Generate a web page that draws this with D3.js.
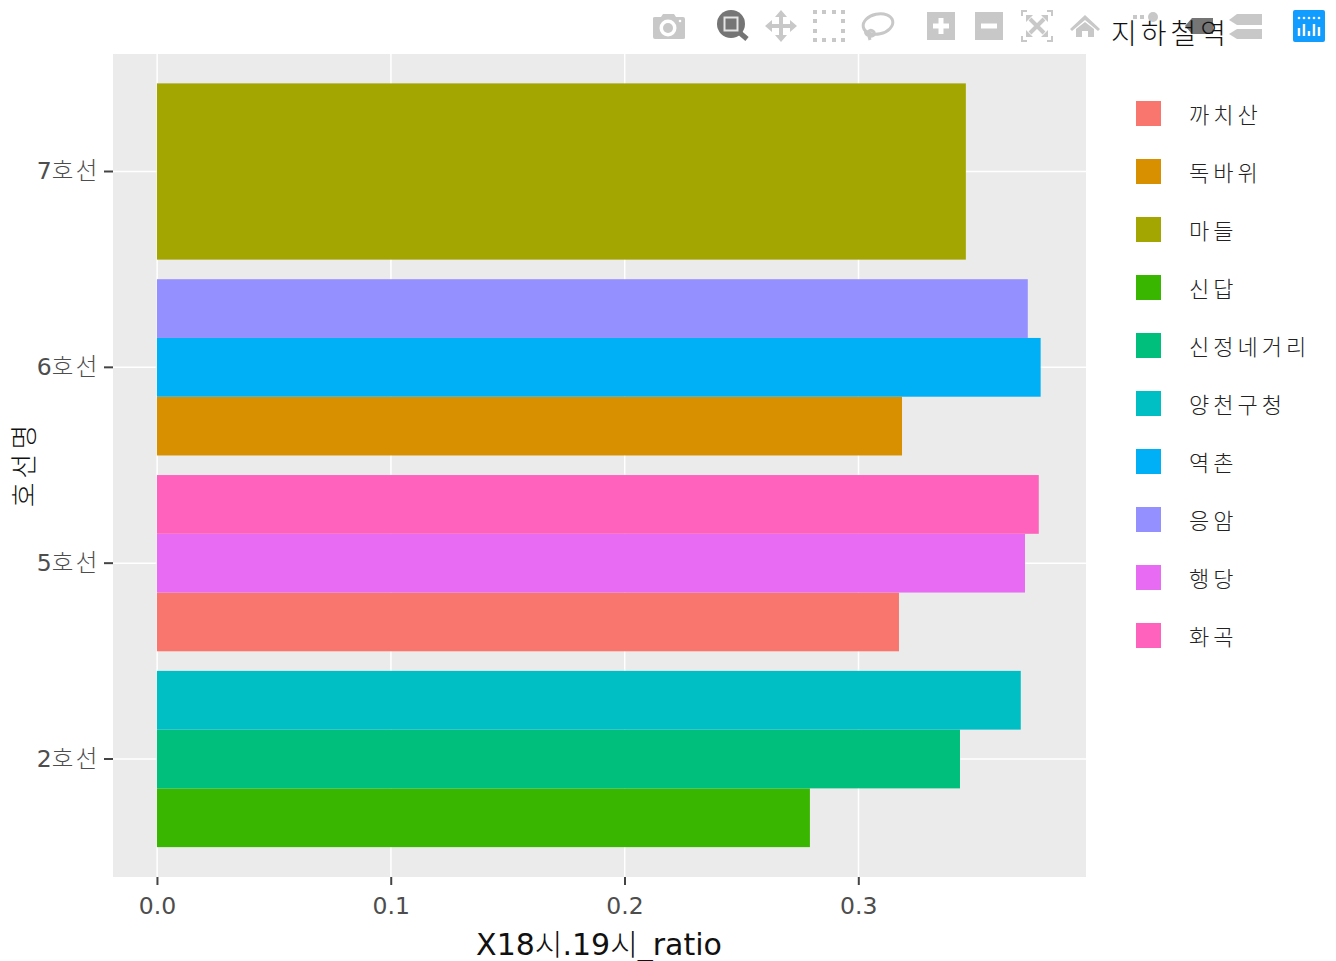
<!DOCTYPE html>
<html>
<head>
<meta charset="utf-8">
<script src="https://d3js.org/d3.v7.min.js"></script>
<style>
  body { margin: 0; background: white; }
  text { font-family: "DejaVu Sans", sans-serif; }
  .ko { font-family: "Noto Sans CJK KR", sans-serif; font-weight: 300; }
</style>
</head>
<body>
<div id="chart"></div>
<script>
const lines = ["2호선", "5호선", "6호선", "7호선"];
const stations = ["까치산", "독바위", "마들", "신답", "신정네거리", "양천구청", "역촌", "응암", "행당", "화곡"];
const stationColors = ["#F8766D", "#D89000", "#A3A500", "#39B600", "#00BF7D", "#00BFC4", "#00B0F6", "#9590FF", "#E76BF3", "#FF62BC"];
const stationLines = ["5호선", "6호선", "7호선", "2호선", "2호선", "2호선", "6호선", "6호선", "5호선", "5호선"];
const ratios = [0.3174, 0.3187, 0.346, 0.2793, 0.3435, 0.3695, 0.378, 0.3725, 0.3713, 0.3772];
const xTicks = [0, 0.1, 0.2, 0.3];

const width = 1336, height = 961;
const panel = {left: 113, right: 1086, top: 54, bottom: 877};
const greyIcon = "#c8c8c8", darkIcon = "#757575";

const svg = d3.select("#chart").append("svg")
    .attr("width", width)
    .attr("height", height)
    .style("display", "block");

// hangul gets its own lighter tspan, latin and digits stay in DejaVu
function setMixedText(selection, spacing) {
    selection.each(function(d) {
        const node = d3.select(this);
        const str = node.text();
        node.text(null);
        str.match(/[가-힣]+|[^가-힣]+/g).forEach(part => {
            const isKorean = /[가-힣]/.test(part);
            node.append("tspan")
                .attr("class", isKorean ? "ko" : null)
                .attr("letter-spacing", isKorean ? spacing : null)
                .text(part);
        });
    });
}

// x is fixed so that 0.1 spans about 233.8px, as in the picture
const x = d3.scaleLinear()
    .domain([-0.0188, 0.3974])
    .range([panel.left, panel.right]);

const y = d3.scaleBand()
    .domain(lines)
    .range([panel.bottom - 0.5, panel.top])
    .paddingInner(0.1)
    .paddingOuter(0.15);

svg.append("rect")
    .attr("x", panel.left)
    .attr("y", panel.top)
    .attr("width", panel.right - panel.left)
    .attr("height", panel.bottom - panel.top)
    .attr("fill", "#ebebeb");

// grid
svg.selectAll(".grid-x")
    .data(xTicks)
    .enter()
    .append("line")
    .attr("x1", d => x(d) + 0.2)
    .attr("x2", d => x(d) + 0.2)
    .attr("y1", panel.top)
    .attr("y2", panel.bottom)
    .attr("stroke", "white")
    .attr("stroke-width", 1.5);

svg.selectAll(".grid-y")
    .data(lines)
    .enter()
    .append("line")
    .attr("x1", panel.left)
    .attr("x2", panel.right)
    .attr("y1", d => y(d) + y.bandwidth() / 2)
    .attr("y2", d => y(d) + y.bandwidth() / 2)
    .attr("stroke", "white")
    .attr("stroke-width", 1.5);

// bars, dodged inside each line's band
const barData = stations.map((s, i) => ({station: s, line: stationLines[i], value: ratios[i], color: stationColors[i]}));
lines.forEach(line => {
    const group = barData.filter(d => d.line == line);
    const inner = d3.scaleBand()
        .domain(group.map(d => d.station).reverse())
        .range([y(line), y(line) + y.bandwidth()]);
    svg.selectAll(".bar-" + line)
        .data(group)
        .enter()
        .append("rect")
        .attr("x", x(0))
        .attr("y", d => inner(d.station))
        .attr("width", d => x(d.value) - x(0))
        .attr("height", inner.bandwidth())
        .attr("fill", d => d.color);
});

// axes
const xAxis = svg.append("g")
    .attr("transform", "translate(0," + panel.bottom + ")")
    .call(d3.axisBottom(x).tickValues(xTicks).tickFormat(d3.format(".1f")).tickSize(8).tickPadding(12));
const yAxis = svg.append("g")
    .attr("transform", "translate(" + panel.left + ",0)")
    .call(d3.axisLeft(y).tickSize(9).tickPadding(4));

[xAxis, yAxis].forEach(axis => {
    axis.attr("font-family", null).attr("font-size", null);
    axis.select(".domain").remove();
    axis.selectAll("line").attr("stroke", "#444").attr("stroke-width", 2);
    axis.selectAll("text")
        .attr("fill", "#4d4d4d")
        .style("font-size", "23.5px");
});
yAxis.selectAll("text").call(setMixedText, 2.5);

// baseline any lower and the underscore falls off the page
svg.append("text")
    .attr("x", 599)
    .attr("y", 955)
    .attr("text-anchor", "middle")
    .attr("font-size", 30)
    .attr("fill", "#111")
    .text("X18시.19시_ratio")
    .call(setMixedText, 0);

svg.append("text")
    .attr("transform", "translate(34,464) rotate(-90)")
    .attr("text-anchor", "middle")
    .attr("font-size", 27)
    .attr("fill", "#111")
    .text("호선명")
    .call(setMixedText, 4);

// modebar, it sits under the legend title
const modebar = svg.append("g").attr("id", "modebar");

function icon(cx, cy) {
    return modebar.append("g").attr("transform", "translate(" + cx + "," + cy + ")");
}

// camera
let g = icon(669, 27).attr("fill", greyIcon);
g.append("path").attr("d", "M-16,-9Q-16,-10 -14,-10H-8L-6,-13H5L7,-10H14Q16,-10 16,-8V11Q16,12 14,12H-14Q-16,12 -16,10Z");
g.append("circle").attr("cx", -1).attr("cy", 1).attr("r", 8.5).attr("fill", "white");
g.append("circle").attr("cx", -1).attr("cy", 1).attr("r", 5);
g.append("circle").attr("cx", 11).attr("cy", -6).attr("r", 1.3).attr("fill", "white");

// zoom, the active tool
g = icon(731, 24);
g.append("circle").attr("r", 14).attr("fill", darkIcon);
g.append("rect").attr("x", -6.5).attr("y", -6.5).attr("width", 13).attr("height", 13)
    .attr("fill", darkIcon).attr("stroke", "#e4e4e4").attr("stroke-width", 2);
g.append("line").attr("x1", 9).attr("y1", 9).attr("x2", 16).attr("y2", 15).attr("stroke", darkIcon).attr("stroke-width", 5);

// pan
g = icon(781, 26).attr("fill", greyIcon);
g.append("path").attr("d", "M0,-16L6,-9H2V-2H9V-6L16,0L9,6V2H2V9H6L0,16L-6,9H-2V2H-9V6L-16,0L-9,-6V-2H-2V-9H-6Z");

// box select
g = icon(829, 26).attr("fill", greyIcon);
[-16, -7, 3, 12].forEach(a => {
    [-16, 12].forEach(b => {
        g.append("rect").attr("x", a).attr("y", b).attr("width", 4).attr("height", 4);
        g.append("rect").attr("x", b).attr("y", a).attr("width", 4).attr("height", 4);
    });
});

// lasso
g = icon(878, 24).attr("fill", "none").attr("stroke", greyIcon).attr("stroke-width", 3);
g.append("ellipse").attr("rx", 15).attr("ry", 10).attr("transform", "rotate(-12)");
g.append("path").attr("d", "M-12,6C-14,11 -7,14 -4,11C-2,7 -9,4 -10,9L-8,16");

// zoom in and out
g = icon(941, 26).attr("fill", greyIcon);
g.append("path").attr("d", "M-14,-14H14V14H-14ZM-2.5,-8V-2.5H-8V2.5H-2.5V8H2.5V2.5H8V-2.5H2.5V-8Z").attr("fill-rule", "evenodd");
g = icon(989, 26).attr("fill", greyIcon);
g.append("path").attr("d", "M-14,-14H14V14H-14ZM-8,-2.5V2.5H8V-2.5Z").attr("fill-rule", "evenodd");

// autoscale
g = icon(1037, 26);
g.append("path").attr("d", "M-10,-15H-15V-10M10,-15H15V-10M-10,15H-15V10M10,15H15V10")
    .attr("fill", "none").attr("stroke", greyIcon).attr("stroke-width", 2);
g.append("path").attr("d", "M-7,-7L7,7M7,-7L-7,7").attr("stroke", greyIcon).attr("stroke-width", 4);
g.append("path").attr("d", "M-11,-11H-4L-11,-4ZM11,-11H4L11,-4ZM-11,11H-4L-11,4ZM11,11H4L11,4Z").attr("fill", greyIcon);

// reset axes
g = icon(1085, 26).attr("fill", greyIcon);
g.append("path").attr("d", "M0,-11L15,3L13,5L0,-6L-13,5L-15,3ZM-9,3L0,-4L9,3V11H3V5H-3V11H-9Z");

// spikes
g = icon(1133, 17).attr("fill", greyIcon);
g.append("rect").attr("x", 0).attr("y", -2).attr("width", 4).attr("height", 4);
g.append("rect").attr("x", 7).attr("y", -2).attr("width", 4).attr("height", 4);
g.append("circle").attr("cx", 20).attr("cy", 0).attr("r", 5);

// hover closest, active
g = icon(1199, 26).attr("fill", darkIcon);
g.append("path").attr("d", "M-14,0L-7,-8H14V8H-7Z");

// hover compare
g = icon(1246, 26).attr("fill", greyIcon);
g.append("path").attr("d", "M-17,-6L-9,-12H16V-1H-9Z");
g.append("path").attr("d", "M-17,8L-9,3H16V13H-9Z");

// plotly logo
g = icon(1309, 26);
g.append("rect").attr("x", -16).attr("y", -16).attr("width", 32).attr("height", 32).attr("rx", 2).attr("fill", "#119dff");
[-10, -5, 0, 5, 10].forEach((dx, i) => {
    g.append("circle").attr("cx", dx).attr("cy", -8).attr("r", 1.3).attr("fill", "white");
    g.append("line")
        .attr("x1", dx).attr("x2", dx)
        .attr("y1", [2, -2, 5, -2, 1][i])
        .attr("y2", 10)
        .attr("stroke", "white")
        .attr("stroke-width", 2.4);
});

// legend
svg.append("text")
    .attr("x", 1111)
    .attr("y", 44)
    .attr("font-size", 28)
    .attr("fill", "#111")
    .text("지하철역")
    .call(setMixedText, 4);

const legendY = d3.scalePoint()
    .domain(stations)
    .range([114, 636]);

const legend = svg.selectAll(".legend-item")
    .data(barData)
    .enter()
    .append("g")
    .attr("transform", d => "translate(0," + legendY(d.station) + ")");

legend.append("rect")
    .attr("x", 1136)
    .attr("y", -13)
    .attr("width", 25)
    .attr("height", 25)
    .attr("fill", d => d.color);

legend.append("text")
    .attr("x", 1189)
    .attr("y", 8.5)
    .attr("font-size", 22)
    .attr("fill", "#222")
    .text(d => d.station)
    .call(setMixedText, 4);
</script>
</body>
</html>
